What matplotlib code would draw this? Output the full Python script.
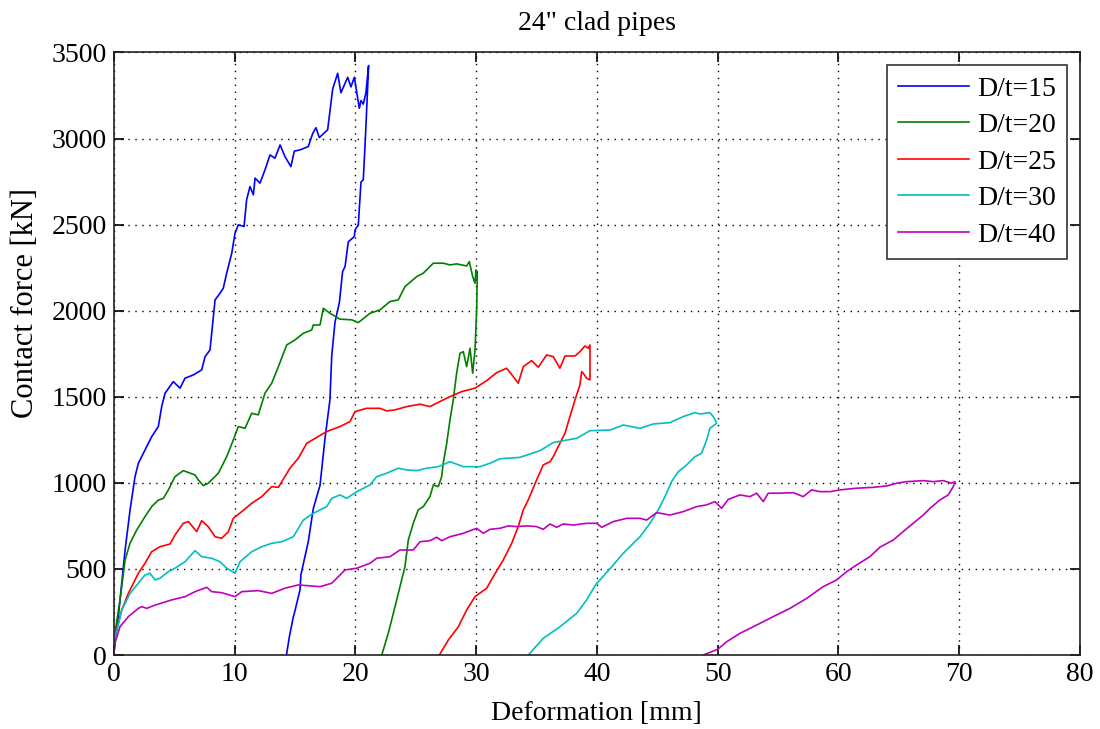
import matplotlib
matplotlib.use("Agg")
import matplotlib.pyplot as plt

plt.rcParams['font.family'] = ['Liberation Serif', 'DejaVu Serif']

labels = ["D/t=15", "D/t=20", "D/t=25", "D/t=30", "D/t=40"]
colors = ["#0000ff", "#008000", "#ff0000", "#00bfbf", "#bf00bf"]

# D/t=15 (loading then unloading)
x15 = [0.0, 0.1, 0.38, 0.94, 1.35, 1.76, 2.04, 2.59, 3.14, 3.69, 3.97, 4.25, 4.93, 5.49, 5.90, 6.59,
       7.28, 7.56, 7.97, 8.39, 8.80, 9.07, 9.35, 9.77, 10.04, 10.31, 10.79, 11.0, 11.28, 11.56, 11.70,
       12.11, 12.52, 12.94, 13.35, 13.77, 14.18, 14.67, 14.95, 15.42, 16.11, 16.47, 16.74, 17.02, 17.71,
       18.13, 18.54, 18.81, 19.37, 19.64, 19.92, 20.33, 20.47, 20.66, 20.88, 21.1,
       20.94, 20.83, 20.66, 20.47, 20.25, 19.98, 19.92, 19.42, 19.15, 18.95, 18.68, 18.32, 18.05, 17.90,
       17.49, 17.08, 16.52, 16.11, 15.50, 15.42, 14.95, 14.87, 14.55, 14.30]
y15 = [0, 70, 222, 610, 842, 1036, 1114, 1191, 1268, 1327, 1443, 1521, 1588, 1550, 1608, 1627,
       1656, 1733, 1772, 2063, 2102, 2131, 2218, 2334, 2450, 2499, 2489, 2644, 2721, 2673, 2770,
       2741, 2818, 2905, 2886, 2963, 2895, 2837, 2927, 2934, 2954, 3029, 3063, 3006, 3051,
       3289, 3379, 3266, 3356, 3300, 3356, 3176, 3221, 3200, 3266, 3424,
       3167, 2995, 2760, 2747, 2499, 2469, 2431, 2400, 2256, 2228, 2047, 1934, 1740, 1483,
       1257, 986, 850, 660, 467, 378, 241, 222, 110, 0]

# D/t=20
x20 = [0.0, 0.1, 0.52, 0.94, 1.35, 1.90, 2.59, 3.14, 3.69, 4.11, 4.52, 5.07, 5.76, 6.73, 7.0, 7.42,
       7.83, 8.66, 9.35, 9.9, 10.31, 10.87, 11.42, 11.97, 12.52, 13.08, 13.63, 14.32, 15.0, 15.70,
       16.39, 16.52, 17.08, 17.35, 17.91, 18.73, 19.70, 20.25, 21.22, 22.04, 22.87, 23.56, 24.11,
       25.08, 25.63, 26.46, 27.28, 27.84, 28.39, 29.22, 29.44, 29.72, 29.91, 29.99, 30.1,
       30.05, 29.91, 29.72, 29.5, 29.22, 28.94, 28.67, 28.39, 28.11, 27.84, 27.57, 27.28, 27.15,
       26.87, 26.46, 26.18, 25.63, 25.21, 24.8, 24.39, 24.11, 23.70, 23.29, 22.73, 22.19]
y20 = [0, 126, 320, 552, 649, 726, 804, 862, 900, 910, 959, 1036, 1071, 1046, 1017, 984,
       998, 1056, 1152, 1249, 1327, 1317, 1404, 1395, 1521, 1579, 1675, 1801, 1830, 1869,
       1888, 1917, 1917, 2014, 1985, 1951, 1947, 1931, 1985, 2005, 2053, 2063, 2140,
       2198, 2218, 2276, 2276, 2266, 2272, 2260, 2285, 2198, 2160, 2237, 2227,
       2005, 1772, 1637, 1782, 1675, 1762, 1753, 1637, 1482, 1366, 1230, 1114, 1036,
       978, 988, 920, 862, 843, 765, 668, 513, 397, 281, 126, 0]

# D/t=25
x25 = [0.0, 0.1, 0.66, 1.21, 2.04, 2.59, 3.14, 3.83, 4.66, 5.07, 5.76, 6.18, 6.87, 7.28, 7.83,
       8.39, 8.94, 9.49, 9.9, 10.6, 11.42, 12.25, 13.08, 13.63, 14.59, 15.28, 15.98, 17.63, 18.73,
       19.56, 19.98, 20.94, 22.04, 22.6, 23.29, 24.26, 25.36, 26.18, 27.0, 27.84, 28.81, 29.91,
       30.88, 31.70, 32.53, 33.08, 33.49, 33.91, 34.6, 35.15, 35.84, 36.39, 36.94, 37.36, 38.19,
       38.6, 39.01, 39.29, 39.43, 39.43, 39.15, 38.87, 38.74,
       38.6, 38.19, 37.77, 37.36, 36.94, 36.39, 36.12, 35.56, 35.01, 34.32, 33.91, 33.49, 32.95,
       32.25, 31.42, 30.88, 29.91, 29.22, 28.53, 27.70, 26.96]
y25 = [0, 106, 261, 358, 475, 533, 600, 629, 645, 697, 765, 775, 717, 780, 745,
       687, 678, 716, 794, 833, 881, 920, 978, 974, 1085, 1143, 1230, 1298, 1327,
       1356, 1414, 1433, 1433, 1418, 1424, 1443, 1457, 1443, 1472, 1501, 1530, 1550,
       1594, 1640, 1666, 1617, 1579, 1675, 1710, 1672, 1743, 1733, 1666, 1737, 1737,
       1762, 1795, 1782, 1801, 1598, 1608, 1637, 1646,
       1569, 1482, 1385, 1288, 1230, 1152, 1123, 1104, 1017, 901, 843, 746, 649,
       552, 455, 388, 339, 261, 164, 87, 0]

# D/t=30
x30 = [0.0, 0.1, 0.66, 1.35, 2.04, 2.59, 3.0, 3.42, 3.83, 4.52, 5.07, 5.9, 6.73, 7.28, 8.11,
       8.80, 9.35, 10.04, 10.46, 11.42, 12.25, 13.08, 13.91, 14.87, 15.70, 16.52, 17.63, 18.05,
       18.73, 19.29, 20.12, 21.22, 21.77, 22.6, 23.56, 24.26, 25.08, 25.91, 26.87, 27.84, 28.94,
       30.32, 31.15, 31.98, 33.63, 35.29, 36.39, 38.33, 39.43, 41.09, 42.19, 43.57, 44.67, 46.05,
       47.15, 48.12, 48.53, 49.36, 49.64, 49.92,
       49.36, 49.09, 48.67, 48.12, 47.43, 46.74, 46.19, 45.64, 45.08, 44.4, 43.57, 43.02, 42.19,
       41.36, 40.26, 39.98, 39.15, 38.33, 36.94, 35.56, 34.32]
y30 = [0, 97, 261, 358, 417, 465, 475, 436, 446, 484, 504, 542, 606, 571, 562,
       542, 504, 475, 542, 600, 629, 649, 658, 687, 784, 823, 862, 910,
       930, 910, 949, 988, 1036, 1056, 1085, 1075, 1071, 1085, 1094, 1123, 1094,
       1094, 1114, 1140, 1148, 1187, 1234, 1259, 1303, 1307, 1336, 1317, 1342, 1350,
       1385, 1408, 1400, 1408, 1385, 1346,
       1317, 1249, 1172, 1152, 1104, 1065, 1007, 920, 843, 765, 687, 649, 591,
       523, 436, 417, 320, 242, 164, 97, 0]

# D/t=40
x40 = [0.0, 0.1, 0.52, 1.21, 2.04, 2.32, 2.73, 3.42, 4.8, 5.9, 6.73, 7.70, 8.11, 8.94, 10.04,
       10.6, 11.97, 13.08, 14.18, 15.28, 17.08, 18.05, 19.15, 20.12, 21.22, 21.77, 22.87, 23.7,
       24.8, 25.36, 26.18, 26.74, 27.15, 27.84, 28.94, 30.05, 30.6, 31.15, 31.98, 32.67, 33.36,
       34.19, 35.01, 35.56, 36.12, 36.67, 37.22, 38.05, 39.15, 39.98, 40.4, 41.36, 42.47, 43.57,
       44.12, 44.95, 46.05, 47.15, 48.26, 49.09, 49.78, 50.33, 50.88, 51.85, 52.67, 53.23, 53.78,
       54.19, 55.16, 56.26, 57.09, 57.78, 58.47, 59.3, 60.12, 61.5, 62.88, 63.99, 64.82, 65.65,
       67.02, 67.85, 68.68, 69.37, 69.65,
       69.51, 69.09, 68.41, 67.58, 67.02, 66.19, 65.36, 64.54, 63.43, 62.6, 61.5, 60.68, 59.85,
       58.74, 57.37, 55.99, 54.6, 53.23, 51.85, 50.75, 50.0, 48.81]
y40 = [0, 68, 165, 223, 271, 281, 271, 290, 320, 339, 368, 393, 368, 362, 339,
       368, 374, 358, 388, 407, 397, 417, 494, 504, 533, 562, 571, 610,
       610, 658, 664, 684, 664, 687, 707, 736, 707, 730, 736, 750, 746,
       750, 746, 730, 761, 742, 761, 755, 765, 765, 742, 775, 794, 794,
       784, 827, 813, 833, 862, 872, 891, 852, 904, 930, 920, 940, 891,
       940, 940, 943, 920, 959, 949, 949, 959, 969, 974, 982, 998, 1007,
       1013, 1007, 1013, 998, 1007,
       978, 930, 901, 852, 813, 765, 717, 668, 626, 571, 523, 484, 436,
       397, 329, 271, 223, 174, 126, 77, 33, 0]

xs = [x15, x20, x25, x30, x40]
ys = [y15, y20, y25, y30, y40]

xticks = [0, 10, 20, 30, 40, 50, 60, 70, 80]
yticks = [0, 500, 1000, 1500, 2000, 2500, 3000, 3500]

fig = plt.figure(figsize=(11, 7.29), dpi=100)
ax = fig.add_axes([0.1034, 0.1015, 0.8784, 0.8265])

for x, y, c, lab in zip(xs, ys, colors, labels):
    ax.plot(x, y, color=c, lw=1.2, label=lab)

ax.set_xlim(0, 80)
ax.set_ylim(0, 3500)
ax.set_xticks(xticks)
ax.set_yticks(yticks)
ax.tick_params(direction='in', top=True, right=True, length=7, width=1.2,
               labelsize=20, colors='black', pad=5)
for s in ax.spines.values():
    s.set_linewidth(1.2)
    s.set_color('#222222')
ax.grid(True, color='black', linestyle=(0, (1, 4)), linewidth=1.0)

ax.set_xlabel('Deformation [mm]', fontsize=20, labelpad=10)
ax.set_ylabel('Contact force [kN]', fontsize=22, labelpad=4)
ax.yaxis.set_label_coords(-0.076, 0.585)
ax.set_title('24" clad pipes', fontsize=20, pad=16)

leg = ax.legend(loc='upper right', fontsize=20, frameon=True, fancybox=False,
                edgecolor='#333333', framealpha=1, handlelength=2.55,
                handletextpad=0.3, borderpad=0.4, labelspacing=0.4,
                borderaxespad=0.45)
leg.get_frame().set_linewidth(1.2)

fig.savefig('out.png', dpi=100)
